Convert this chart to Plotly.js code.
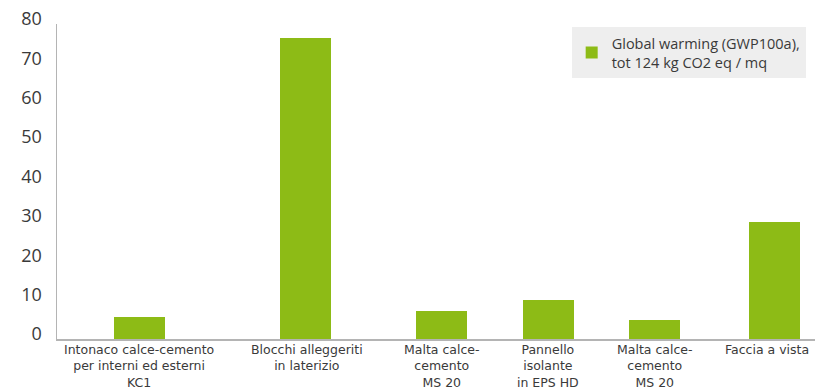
<!DOCTYPE html>
<html>
<head>
<meta charset="utf-8">
<script src="https://cdn.plot.ly/plotly-3.0.1.min.js"></script>
<style>
html,body{margin:0;padding:0;background:#fff;}
#chart{width:815px;height:391px;}
</style>
</head>
<body>
<div id="chart"></div>
<script>
// ---- data ----
var categories = [
  "Intonaco calce-cemento<br>per interni ed esterni<br>KC1",
  "Blocchi alleggeriti<br>in laterizio",
  "Malta calce-<br>cemento<br>MS 20",
  "Pannello<br>isolante<br>in EPS HD",
  "Malta calce-<br>cemento<br>MS 20",
  "Faccia a vista"
];
var values = [5.6, 76.5, 7.1, 9.9, 4.8, 29.7];
var slotCenters = [1.088, 3.278, 5.073, 6.484, 7.883, 9.466];
var seriesName = "Global warming (GWP100a),<br>tot 124 kg CO2 eq / mq";
var yTicks = [0, 10, 20, 30, 40, 50, 60, 70, 80];

// ---- style ----
var green = "#8dbb16";
var textColor = "#3a3a3a";
var fontFam = "'Open Sans', Roboto, sans-serif";
var labelFont = "'DejaVu Sans', 'Open Sans', sans-serif";
var labelShift = [0, 2, 0, 0, 0, -8];

var annotations = categories.map(function (c, i) {
  return {
    x: slotCenters[i], xref: "x",
    y: 0, yref: "paper",
    xanchor: "center", yanchor: "top", align: "center",
    xshift: labelShift[i],
    yshift: -1,
    text: c, showarrow: false,
    font: {family: labelFont, size: 12.5, color: textColor}
  };
});

var trace = {
  type: "bar",
  x: slotCenters,
  y: values,
  width: 0.673,
  name: seriesName,
  marker: {color: green},
  hoverinfo: "y"
};

var layout = {
  width: 815, height: 391,
  margin: {l: 57, r: 0, t: 24, b: 52},
  paper_bgcolor: "#ffffff",
  plot_bgcolor: "#ffffff",
  font: {family: fontFam, color: textColor},
  showlegend: true,
  legend: {
    x: 0.679, y: 0.99, xanchor: "left", yanchor: "top",
    bgcolor: "#eeeeee", borderwidth: 0,
    font: {family: fontFam, size: 14.5, color: textColor}
  },
  xaxis: {
    type: "linear", range: [0, 10],
    showgrid: false, zeroline: false,
    showline: true, linecolor: "#b4b4b4", linewidth: 1.5,
    showticklabels: false, ticks: "", fixedrange: true
  },
  yaxis: {
    range: [0, 80],
    tickvals: yTicks,
    showgrid: false, zeroline: false,
    showline: true, linecolor: "#b4b4b4", linewidth: 1.5,
    ticks: "",
    ticklabelshift: -5,
    ticklabelstandoff: 10,
    tickfont: {family: fontFam, size: 18, color: textColor},
    fixedrange: true
  },
  annotations: annotations,
  bargap: 0
};

Plotly.newPlot("chart", [trace], layout, {displayModeBar: false, staticPlot: true});
</script>
</body>
</html>
